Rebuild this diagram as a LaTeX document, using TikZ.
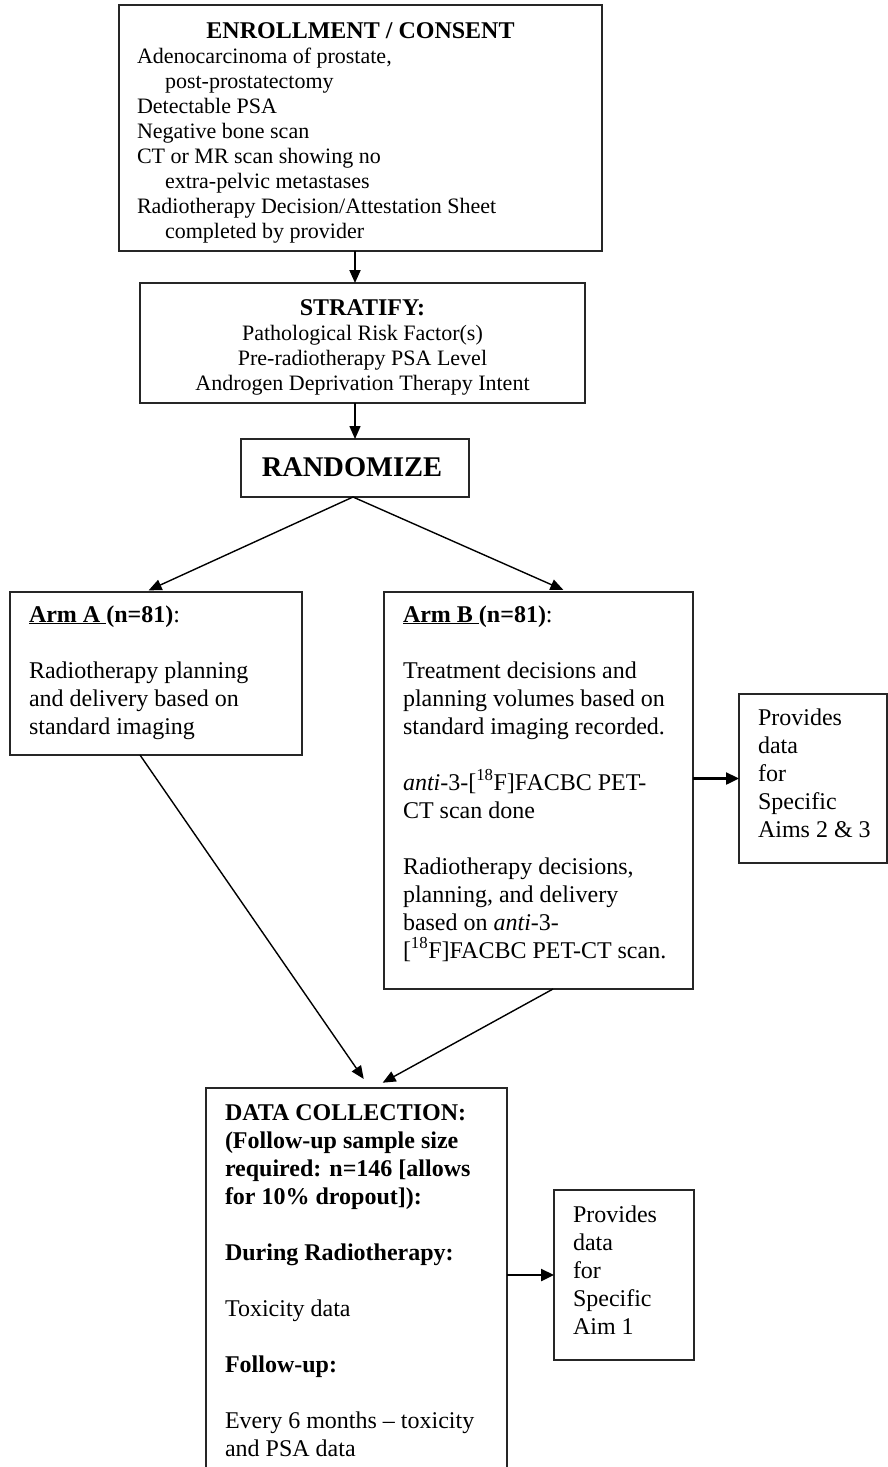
\documentclass[tikz,border=0pt]{standalone}
\usepackage{fontspec}
\setmainfont{Liberation Serif}
\usetikzlibrary{arrows.meta}
\begin{document}
\begin{tikzpicture}[x=1pt,y=-1pt,
  box/.style={draw=black!85, line width=1.4pt, anchor=north west, inner sep=0pt, outer sep=0pt},
  bodytxt/.style={inner sep=0pt, outer sep=0pt, anchor=base west, font=\fontsize{24}{28}\selectfont},
  smalltxt/.style={inner sep=0pt, outer sep=0pt, font=\fontsize{22}{25}\selectfont},
  arr/.style={line width=1.4pt, -{Triangle[length=13pt,width=11pt]}},
  varr/.style={line width=2pt, -{Triangle[length=13pt,width=11pt]}},
  harr/.style={line width=2.4pt, -{Triangle[length=13pt,width=12pt]}},
]
\useasboundingbox (0,0) rectangle (888,1467);
\clip (0,0) rectangle (888,1467);

% boxes
\node[box, minimum width=483pt, minimum height=246pt] (enroll) at (119,5) {};
\node[box, minimum width=445pt, minimum height=120pt] (strat) at (140,283) {};
\node[box, minimum width=228pt, minimum height=58pt] (rand) at (241,439) {};
\node[box, minimum width=292pt, minimum height=163pt] (armA) at (10,592) {};
\node[box, minimum width=309pt, minimum height=397pt] (armB) at (384,592) {};
\node[box, minimum width=148pt, minimum height=169pt] (provA) at (739,694) {};
\node[box, minimum width=301pt, minimum height=420pt] (data) at (206,1088) {};
\node[box, minimum width=140pt, minimum height=170pt] (provB) at (554,1190) {};

% texts
\node[inner sep=0pt, anchor=base, font=\fontsize{24}{28}\selectfont\bfseries] (enrollT) at (360.5,38) {ENROLLMENT / CONSENT};
\node[smalltxt, anchor=base west] (enrollB) at (137,63) {\begin{tabular}[t]{@{}l@{}}
Adenocarcinoma of prostate,\\
\hspace*{28pt}post-prostatectomy\\
Detectable PSA\\
Negative bone scan\\
CT or MR scan showing no\\
\hspace*{28pt}extra-pelvic metastases\\
Radiotherapy Decision/Attestation Sheet\\
\hspace*{28pt}completed by provider
\end{tabular}};

\node[smalltxt, anchor=base] (stratT) at (362.5,315) {\begin{tabular}[t]{@{}c@{}}
{\fontsize{24}{25}\selectfont\bfseries STRATIFY:}\\
Pathological Risk Factor(s)\\
Pre-radiotherapy PSA Level\\
Androgen Deprivation Therapy Intent
\end{tabular}};

\node[inner sep=0pt, anchor=base, font=\fontsize{28.5}{32}\selectfont\bfseries] (randT) at (352,476) {RANDOMIZE};

\node[bodytxt] (armAT) at (29,622) {\begin{tabular}[t]{@{}l@{}}
\underline{\textbf{Arm A }}\textbf{(n=81)}:\\
\\
Radiotherapy planning\\
and delivery based on\\
standard imaging
\end{tabular}};

\node[bodytxt] (armBT) at (403,622) {\begin{tabular}[t]{@{}l@{}}
\underline{\textbf{Arm B }}\textbf{(n=81)}:\\
\\
Treatment decisions and\\
planning volumes based on\\
standard imaging recorded.\\
\\
\textit{anti}-3-{[}\smash{\textsuperscript{18}}F]FACBC PET-\\
CT scan done\\
\\
Radiotherapy decisions,\\
planning, and delivery\\
based on \textit{anti}-3-\\
{[}\smash{\textsuperscript{18}}F]FACBC PET-CT scan.
\end{tabular}};

\node[bodytxt] (provAT) at (758,725) {\begin{tabular}[t]{@{}l@{}}
Provides\\
data\\
for\\
Specific\\
Aims 2 \& 3
\end{tabular}};

\node[bodytxt] (dataT) at (225,1120) {\begin{tabular}[t]{@{}l@{}}
\textbf{DATA COLLECTION:}\\
\textbf{(Follow-up sample size}\\
\textbf{required: n=146 [allows}\\
\textbf{for 10\% dropout]):}\\
\\
\textbf{During Radiotherapy:}\\
\\
Toxicity data\\
\\
\textbf{Follow-up:}\\
\\
Every 6 months -- toxicity\\
and PSA data
\end{tabular}};

\node[bodytxt] (provBT) at (573,1222) {\begin{tabular}[t]{@{}l@{}}
Provides\\
data\\
for\\
Specific\\
Aim 1
\end{tabular}};

% connectors
\draw[varr] (rand.north |- enroll.south) -- (rand.north |- strat.north);
\draw[arr] (rand.north |- strat.south) -- (rand.north);
\draw[arr, shorten >=4pt] ([xshift=-2pt]rand.south) -- ([xshift=-11pt]armA.north);
\draw[arr, shorten >=5pt] ([xshift=-2pt]rand.south) -- ([xshift=29.5pt]armB.north);
\draw[arr, shorten >=11pt] ([xshift=-16pt]armA.south) -- ([xshift=13.5pt]data.north);
\draw[arr, shorten >=11pt] ([xshift=14.5pt]armB.south) -- ([xshift=16.5pt]data.north);
\draw[harr] (armB.east |- provA.west) -- (provA.west);
\draw[harr] (data.east |- provB.west) -- (provB.west);
\end{tikzpicture}
\end{document}
